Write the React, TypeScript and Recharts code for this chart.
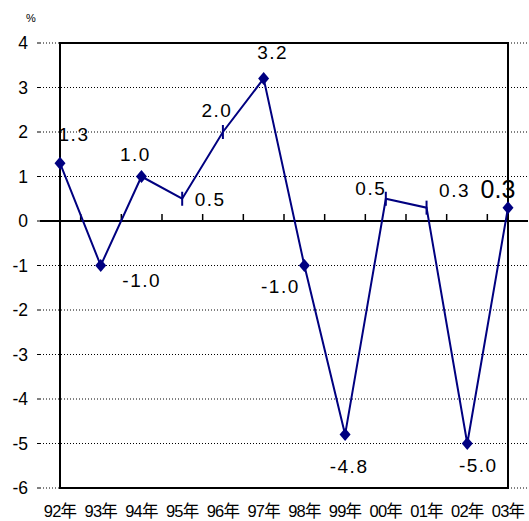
import React from "react";
import {
  CartesianGrid,
  LabelList,
  Line,
  LineChart,
  ReferenceArea,
  ReferenceLine,
  XAxis,
  YAxis,
} from "recharts";

const years = ["92年", "93年", "94年", "95年", "96年", "97年", "98年", "99年", "00年", "01年", "02年", "03年"];
const growth = [1.3, -1.0, 1.0, 0.5, 2.0, 3.2, -1.0, -4.8, 0.5, 0.3, -5.0, 0.3];
const yTicks = [-6, -5, -4, -3, -2, -1, 0, 1, 2, 3, 4];

// points drawn with a short vertical bar instead of a diamond
const barMarkerYears = ["95年", "96年", "00年", "01年"];
// label offset from its point, [dx, dy]
const labelOffsets = [
  [14, -29], [41, 15], [-6, -22], [28, 1], [-6, -22], [9, -26],
  [-24, 21], [4, 32], [-15, -10], [28, -17], [11, 22], [-10, -19],
];

const data = years.map((year, i) => ({ year, value: growth[i] }));

const FONT = "'Liberation Sans', Arial, 'Noto Sans CJK SC', sans-serif";
const NAVY = "#000080";

function Marker(props: any) {
  const { cx, cy, payload } = props;
  if (cx == null || cy == null) return null;
  if (barMarkerYears.includes(payload.year)) {
    return <line x1={cx} x2={cx} y1={cy - 7} y2={cy + 7} stroke={NAVY} strokeWidth={2} />;
  }
  return (
    <polygon
      points={`${cx},${cy - 6.5} ${cx + 5.5},${cy} ${cx},${cy + 6.5} ${cx - 5.5},${cy}`}
      fill={NAVY}
    />
  );
}

function ValueLabel(props: any) {
  const { x, y, value, index } = props;
  const [dx, dy] = labelOffsets[index];
  const last = index === growth.length - 1;
  return (
    <text
      x={x + dx}
      y={y + dy}
      textAnchor="middle"
      dominantBaseline="central"
      fontFamily={FONT}
      fontSize={last ? 25 : 19}
      letterSpacing={last ? 0 : 1.5}
      fill="#000"
    >
      {Number(value).toFixed(1)}
    </text>
  );
}

// zero line with small upward ticks between the categories
function ZeroAxis(props: any) {
  const { x1, x2, y1 } = props;
  const left = Math.min(x1, x2);
  const right = Math.max(x1, x2);
  const step = (right - left) / years.length;
  return (
    <g>
      <line x1={left} x2={right} y1={y1} y2={y1} stroke="#000" strokeWidth={2} />
      {years.slice(1).map((y, i) => (
        <line
          key={y}
          x1={left + step * (i + 1)}
          x2={left + step * (i + 1)}
          y1={y1}
          y2={y1 - 7}
          stroke="#000"
          strokeWidth={1.5}
        />
      ))}
    </g>
  );
}

function YearTick(props: any) {
  const { x, payload } = props;
  return (
    <text
      x={x}
      y={511}
      textAnchor="middle"
      dominantBaseline="central"
      fontFamily={FONT}
      fontSize={16.5}
      letterSpacing={-0.8}
      fill="#000"
    >
      {payload.value}
    </text>
  );
}

export default function App() {
  return (
    <div style={{ position: "absolute", left: 0, top: 0, width: 529, height: 521, background: "#fff" }}>
      <div
        style={{
          position: "absolute",
          left: 26,
          top: 12,
          fontFamily: FONT,
          fontSize: 11,
          color: "#000",
        }}
      >
        %
      </div>
      <LineChart
        width={529}
        height={521}
        data={data}
        margin={{ top: 43, right: 1, bottom: 0, left: 0 }}
      >
        <CartesianGrid horizontal vertical={false} stroke="#000" strokeDasharray="1 2" />
        <ReferenceArea y1={-6} y2={4} fill="none" stroke="#000" strokeWidth={2} />
        <XAxis
          dataKey="year"
          interval={0}
          padding={{ left: 20, right: 20 }}
          axisLine={false}
          tickLine={false}
          height={33}
          tick={<YearTick />}
        />
        <YAxis
          domain={[-6, 4]}
          ticks={yTicks}
          width={40}
          axisLine={false}
          tickSize={3}
          tickMargin={9}
          tickLine={{ stroke: "#000" }}
          tick={{ fontSize: 17.5, fill: "#000", fontFamily: FONT }}
        />
        <ReferenceLine y={0} shape={<ZeroAxis />} />
        <Line
          dataKey="value"
          stroke={NAVY}
          strokeWidth={2}
          dot={<Marker />}
          activeDot={false}
          isAnimationActive={false}
        >
          <LabelList dataKey="value" content={<ValueLabel />} />
        </Line>
      </LineChart>
    </div>
  );
}
